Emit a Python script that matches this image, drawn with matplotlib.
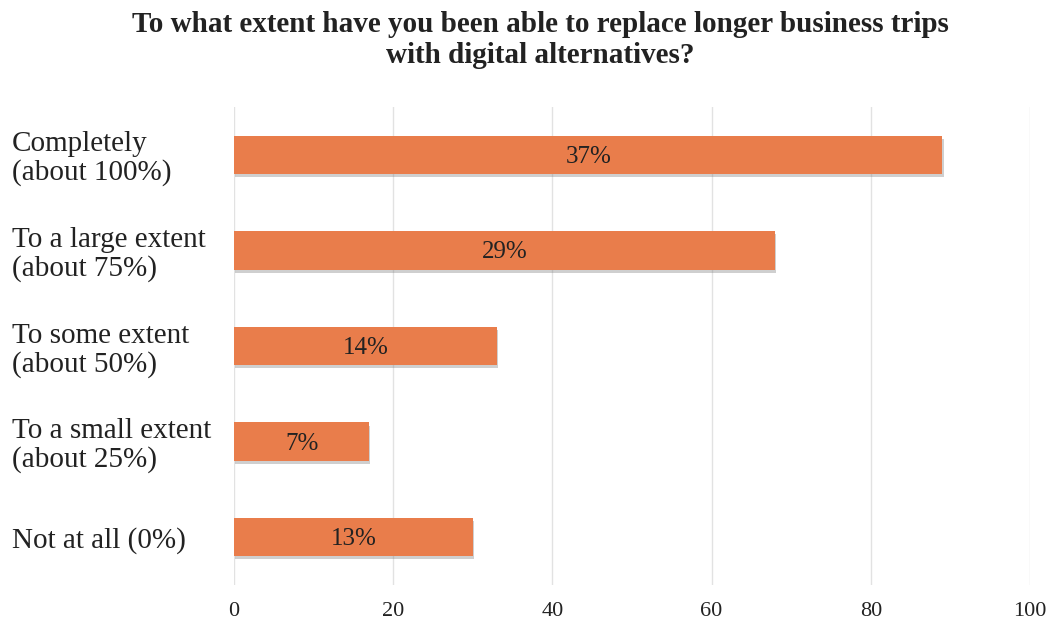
import matplotlib.pyplot as plt
import matplotlib.patheffects as pe

# survey answers, top to bottom
answers = ['Completely\n(about 100%)', 'To a large extent\n(about 75%)',
           'To some extent\n(about 50%)', 'To a small extent\n(about 25%)',
           'Not at all (0%)']
counts = [89, 68, 33, 17, 30]
shares = ['37%', '29%', '14%', '7%', '13%']
x_ticks = [0, 20, 40, 60, 80, 100]

plt.rcParams['font.family'] = ['Liberation Serif', 'DejaVu Serif']

fig = plt.figure(figsize=(10.51, 6.23), dpi=100)
ax = fig.add_axes([234 / 1051, 1 - 585 / 623, (1030 - 234) / 1051, (585 - 107) / 623])

ypos = list(range(len(answers)))
bars = ax.barh(ypos, counts, height=0.4, color='#E97D4B', zorder=3)
for b in bars:
    b.set_path_effects([pe.SimplePatchShadow(offset=(0.8, -2.2), shadow_rgbFace='#777777', alpha=0.35),
                        pe.Normal()])

for y, c, s in zip(ypos, counts, shares):
    ax.text(c / 2, y + 0.02, s, ha='center', va='center', fontsize=18, color='#222222', zorder=4)

ax.set_xlim(0, 100)
ax.set_ylim(len(answers) - 0.5, -0.5)
ax.set_xticks(x_ticks)
ax.set_xticklabels([str(t) for t in x_ticks], fontsize=16, color='#222222')
ax.set_yticks(ypos)
ax.set_yticklabels(answers, fontsize=21, color='#222222', ha='left', linespacing=1.1)
ax.tick_params(axis='y', length=0, pad=160)
ax.tick_params(axis='x', length=0, pad=12)
ax.grid(axis='x', color='#e2e2e2', linewidth=1.0, zorder=0)
for sp in ax.spines.values():
    sp.set_visible(False)

fig.text(0.514, 0.982, 'To what extent have you been able to replace longer business trips\nwith digital alternatives?',
         ha='center', va='top', fontsize=21, fontweight='bold', color='#222222', linespacing=1.2)

fig.savefig('out.png', dpi=100)
